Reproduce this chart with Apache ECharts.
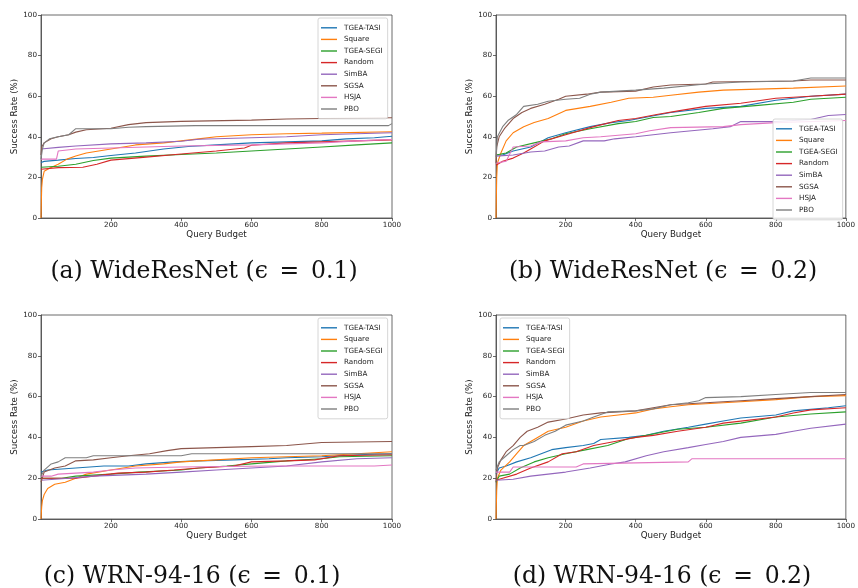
<!DOCTYPE html>
<html>
<head>
<meta charset="utf-8">
<script src="https://cdn.jsdelivr.net/npm/echarts@6/dist/echarts.min.js"></script>
<style>
  html, body { margin: 0; padding: 0; background: #fff; }
  #chart { width: 858px; height: 588px; }
</style>
</head>
<body>
<div id="chart"></div>
<script>
// method names, same order in every panel
var methods = ["TGEA-TASI", "Square", "TGEA-SEGI", "Random", "SimBA", "SGSA", "HSJA", "PBO"];
var xTicks = [200, 400, 600, 800, 1000];
var yTicks = [0, 20, 40, 60, 80, 100];
var captions = [
  "(a) WideResNet (\u03f5\u2002=\u20020.1)",
  "(b) WideResNet (\u03f5\u2002=\u20020.2)",
  "(c) WRN-94-16 (\u03f5\u2002=\u20020.1)",
  "(d) WRN-94-16 (\u03f5\u2002=\u20020.2)"
];

// (a) WideResNet eps 0.1 -- [query, success rate]
var a_tasi = [[1,27.3],[10,27.9],[50,28.5],[100,29.3],[150,29.8],[200,30.8],[270,32],[350,34],[420,35.2],[500,36],[600,37],[700,37.5],[800,38],[870,39],[950,39.5],[1000,40.3]];
var a_square = [[1,0],[2,8],[3,15],[5,19],[10,23],[25,24.5],[50,26.5],[75,29],[100,30.5],[130,32],[200,34],[270,36],[350,37],[400,38],[450,39],[500,40],[600,41],[700,41.5],[800,41.8],[1000,42.5]];
var a_segi = [[1,25],[50,25.5],[100,26.5],[150,28.3],[200,29.5],[300,30.5],[400,31.3],[500,32],[600,33],[700,34],[800,35],[900,36],[1000,37]];
var a_random = [[1,24],[50,24.8],[120,25],[160,26.5],[200,28.5],[300,30],[400,31.5],[500,33],[580,34.5],[600,35.8],[700,37],[800,37.5],[900,38],[1000,38.5]];
var a_simba = [[1,34],[50,34.8],[100,35.5],[200,36.5],[300,37],[400,37.8],[450,38.8],[600,39.5],[700,40],[800,41],[900,41.5],[1000,42]];
var a_sgsa = [[1,31],[3,35],[10,37],[30,39],[50,40],[80,41],[100,42.3],[130,43.5],[200,44.2],[250,46],[300,47],[400,47.6],[600,48.2],[700,48.8],[800,49],[1000,49.4]];
var a_hsja = [[1,29],[45,29],[50,33],[100,34],[200,34.5],[300,35],[400,35.5],[600,36],[700,36.5],[800,37],[900,38],[1000,38.7]];
var a_pbo = [[1,29],[5,34],[10,37],[25,39],[50,40],[80,41],[100,44],[200,44],[250,44.7],[300,45],[440,45.5],[990,45.5],[1000,46.5]];

// (b) WideResNet eps 0.2
var b_tasi = [[1,31],[20,31],[50,33],[100,35],[150,39.5],[200,42],[270,45],[330,47],[380,48],[440,50],[500,52],[600,54],[700,55],[800,58],[900,60],[1000,61]];
var b_square = [[1,0],[3,20],[5,27],[15,32],[30,38],[50,42],[80,45],[110,47],[150,49],[200,53],[270,55],[330,57],[380,59],[450,59.5],[500,60.5],[580,62],[650,63],[750,63.5],[850,64],[1000,65]];
var b_segi = [[1,31],[30,32],[60,35],[110,37],[160,39],[200,41.5],[270,44],[350,46.5],[400,47.5],[450,49.5],[500,50],[580,52],[650,54],[750,55.5],[850,57],[900,58.5],[1000,59.5]];
var b_random = [[1,26],[20,28],[50,29.5],[80,32],[100,34],[140,38],[200,41],[280,45],[350,48],[400,49],[460,51],[530,53],[600,55],[700,56.5],[800,59],[900,60],[1000,61]];
var b_simba = [[1,30.5],[50,31],[100,32.5],[140,33],[180,35],[210,35.5],[250,38],[310,38],[340,39],[400,40],[450,41],[500,42],[560,43],[620,44],[670,45],[700,47.5],[800,47.5],[900,48.5],[950,50.5],[1000,51]];
var b_sgsa = [[1,27],[3,35],[10,40],[25,44],[50,49],[75,52],[100,54],[140,56],[180,58.5],[200,60],[260,61],[300,62],[400,62.5],[450,64.5],[500,65.5],[600,66],[620,67],[850,67.5],[900,68],[1000,68]];
var b_hsja = [[1,27],[30,28],[50,35],[100,35.5],[130,37.5],[200,38],[250,39.5],[300,40],[400,41.5],[440,43],[500,44.5],[650,45],[700,46],[800,47],[1000,48]];
var b_pbo = [[1,30],[5,40],[20,45],[35,48],[60,51],[80,55],[120,56],[150,57.5],[200,58.5],[240,59],[270,61],[300,62],[400,63],[480,64],[600,66],[700,67],[850,67.5],[900,69],[1000,69]];

// (c) WRN-94-16 eps 0.1
var c_tasi = [[1,23],[20,24],[100,25],[180,26],[250,26],[300,27],[380,28],[450,28.5],[550,29],[650,29.5],[700,30],[800,30.5],[900,31.5],[1000,32]];
var c_square = [[1,0],[3,6],[5,9],[10,12],[20,15],[40,17],[70,18],[100,20],[130,22],[200,24],[270,26],[350,27],[400,28],[500,29],[600,30],[700,30.5],[800,31],[900,32],[1000,33]];
var c_segi = [[1,20],[60,20],[100,21],[200,22],[280,23],[400,24],[450,25],[530,26],[600,27],[700,28.5],[800,29.5],[850,30.5],[1000,31]];
var c_random = [[1,20],[100,20],[150,21],[220,22.5],[300,23],[380,24],[450,25],[550,26],[600,28],[700,28.5],[780,29],[850,31],[1000,31.5]];
var c_simba = [[1,19],[80,20],[150,21],[300,22],[400,23],[500,24],[600,25],[700,26],[800,28],[900,29.5],[1000,30]];
var c_sgsa = [[1,18],[10,23],[40,25],[70,26],[100,28.5],[150,29],[200,30],[250,31],[310,32],[360,33.5],[400,34.5],[500,35],[600,35.5],[700,36],[800,37.5],[1000,38]];
var c_hsja = [[1,21],[30,21],[50,22],[150,23],[200,24],[270,25],[400,25.5],[650,26],[950,26],[1000,26.5]];
var c_pbo = [[1,21],[10,24],[30,27],[50,28],[70,30],[130,30],[150,31],[400,31],[430,32],[1000,32]];

// (d) WRN-94-16 eps 0.2
var d_tasi = [[1,22],[10,25],[30,26],[60,28],[100,30],[130,32],[160,34],[200,35],[250,36],[280,37],[300,39],[380,40],[430,41],[480,43],[550,45],[600,46.5],[650,48],[700,49.5],[800,51],[850,53],[950,54.5],[1000,55.5]];
var d_square = [[1,0],[3,14],[5,20],[15,24],[40,28],[60,32],[80,36],[110,39],[150,43],[200,45],[250,48],[300,50],[350,51],[400,52],[450,54],[500,55],[550,56],[650,57],[800,58.5],[900,60],[1000,60.5]];
var d_segi = [[1,18],[10,21],[40,22],[70,25],[110,28],[150,30],[200,32],[260,34],[320,36],[380,39.5],[400,40],[460,42],[520,44],[600,45],[700,47],[800,50],[900,51.5],[1000,52.5]];
var d_random = [[1,19],[20,20],[60,22],[100,25],[150,28],[190,32],[230,33],[280,36],[340,38],[400,40],[450,41],[520,43],[600,45],[650,47],[700,48],[800,50],[850,52],[900,53.5],[1000,54.5]];
var d_simba = [[1,19],[50,19.5],[100,21],[150,22],[200,23],[270,25],[330,27],[370,28],[430,31],[480,33],[550,35],[600,36.5],[650,38],[700,40],[800,41.5],[850,43],[900,44.5],[1000,46.5]];
var d_sgsa = [[1,18],[5,25],[15,29],[30,33],[50,36],[70,40],[90,43],[120,45],[150,47.5],[200,49],[250,51],[300,52],[400,53],[450,54.5],[500,56],[600,57],[700,58],[800,59],[900,60],[1000,61]];
var d_hsja = [[1,23],[40,23],[50,25.5],[230,25.5],[250,27],[400,27.5],[550,28],[560,29.5],[1000,29.5]];
var d_pbo = [[1,24],[10,28],[30,31],[50,34],[70,36],[80,36],[110,38],[140,41],[170,43],[200,46],[250,48],[280,50],[320,52.5],[400,53],[450,54],[500,56],[550,57],[580,58],[600,59.5],[700,60],[800,61],[900,62],[1000,62]];

var panels = [
  [a_tasi, a_square, a_segi, a_random, a_simba, a_sgsa, a_hsja, a_pbo],
  [b_tasi, b_square, b_segi, b_random, b_simba, b_sgsa, b_hsja, b_pbo],
  [c_tasi, c_square, c_segi, c_random, c_simba, c_sgsa, c_hsja, c_pbo],
  [d_tasi, d_square, d_segi, d_random, d_simba, d_sgsa, d_hsja, d_pbo]
];

// layout + style
var colors = ["#1f77b4", "#ff7f0e", "#2ca02c", "#d62728", "#9467bd", "#8c564b", "#e377c2", "#7f7f7f"];
var grids = [
  { left: 41, top: 15, width: 351, height: 203 },
  { left: 496, top: 15, width: 351, height: 203 },
  { left: 41, top: 315, width: 351, height: 204 },
  { left: 496, top: 315, width: 351, height: 204 }
];
var legendPos = [
  { left: 318, top: 18 },
  { left: 773, top: 119 },
  { left: 318, top: 318 },
  { left: 500, top: 318 }
];
var captionPos = [[204, 272], [663, 272], [192, 577], [662, 577]];
var font = "DejaVu Sans";
var axisColor = "#444";

var option = {
  animation: false,
  color: colors,
  grid: [],
  xAxis: [],
  yAxis: [],
  legend: [],
  series: []
};

panels.forEach(function(panel, p) {
  option.grid.push({
    left: grids[p].left, top: grids[p].top,
    width: grids[p].width, height: grids[p].height,
    show: true, borderColor: axisColor, borderWidth: 0.8,
    backgroundColor: "transparent"
  });
  option.xAxis.push({
    type: "value", gridIndex: p, min: 1, max: 1000,
    name: "Query Budget", nameLocation: "middle", nameGap: 12,
    nameTextStyle: { fontFamily: font, fontSize: 8.7, color: "#222" },
    axisLine: { show: true, lineStyle: { color: axisColor, width: 0.8 } },
    axisTick: { show: true, length: 3, customValues: xTicks, lineStyle: { color: axisColor, width: 0.8 } },
    axisLabel: {
      customValues: xTicks, margin: 4, fontFamily: font, fontSize: 7.2, color: "#222",
      formatter: function(v) { return String(v); }
    },
    splitLine: { show: false }
  });
  option.yAxis.push({
    type: "value", gridIndex: p, min: 0, max: 100, interval: 20,
    name: "Success Rate (%)", nameLocation: "middle", nameGap: 20,
    nameTextStyle: { fontFamily: font, fontSize: 8.7, color: "#222" },
    axisLine: { show: true, lineStyle: { color: axisColor, width: 0.8 } },
    axisTick: { show: true, length: 3, lineStyle: { color: axisColor, width: 0.8 } },
    axisLabel: { margin: 4, fontFamily: font, fontSize: 7.2, color: "#222" },
    splitLine: { show: false }
  });
  panel.forEach(function(data, i) {
    option.series.push({
      type: "line", name: methods[i], xAxisIndex: p, yAxisIndex: p,
      data: data, showSymbol: false, symbol: "none",
      lineStyle: { width: 1.1, color: colors[i] },
      itemStyle: { color: colors[i] }
    });
  });
  option.legend.push({
    data: methods, orient: "vertical",
    left: legendPos[p].left, top: legendPos[p].top,
    padding: [4, 5, 4, 3], itemGap: 0,
    itemWidth: 16, itemHeight: 8,
    icon: "path://M0,0 H16 V1.4 H0 Z",
    backgroundColor: "rgba(255,255,255,0.85)",
    borderColor: "#ccc", borderWidth: 0.8, borderRadius: 2,
    textStyle: { fontFamily: font, fontSize: 7.2, color: "#222", lineHeight: 11.6, padding: [0, 0, 0, 2] }
  });
});

// sub-figure captions under each panel
option.graphic = captions.map(function(t, p) {
  return {
    type: "text", x: captionPos[p][0], y: captionPos[p][1],
    style: {
      text: t, align: "center", verticalAlign: "middle",
      fontFamily: "DejaVu Serif", fontSize: 23.5, fill: "#111"
    }
  };
});

var chart = echarts.init(document.getElementById("chart"));
chart.setOption(option);
</script>
</body>
</html>
